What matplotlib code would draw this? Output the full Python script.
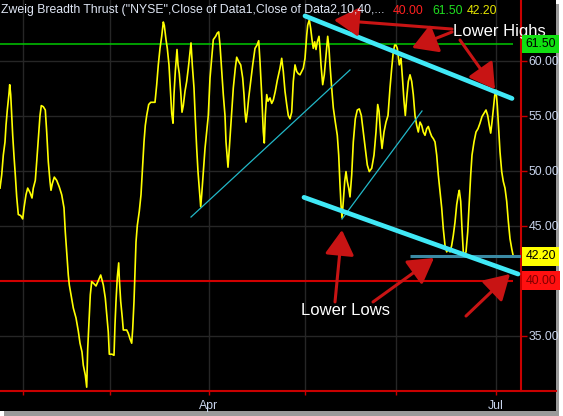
import numpy as np
import matplotlib
matplotlib.use("Agg")
import matplotlib.pyplot as plt
from matplotlib.patches import Rectangle, FancyArrowPatch
from matplotlib.lines import Line2D
import matplotlib.transforms as mtransforms

plt.rcParams['font.family'] = ['Liberation Sans', 'DejaVu Sans']

# ---------------- data (time index: 4.5 units = 1 trading session) ----------------
t = [0, 1.7, 3.3, 5, 6, 7.3, 9, 9.7, 10.7, 11.7, 12.7, 14, 15.3, 16.7, 18.3, 20.7, 22.7, 24, 26, 27.7,
     30, 32, 33.3, 35.3, 36.7, 38.3, 40, 41.3, 43.3, 45.3, 46.7, 48.3, 50, 51, 52.3, 54.3, 56.7, 59.3,
     61.7, 64, 65.3, 66.7, 68.3, 69.3, 71, 73.3, 76, 78.3, 80, 82, 83.3, 85.3, 86.7, 87.7, 89, 90.3,
     91.7, 94, 96, 98.3, 100.7, 103.3, 105.3, 106.7, 108.3, 109.3, 112, 114, 115, 116, 117.3, 118.7,
     119.3, 120.7, 122.3, 123.3, 126.7, 128.3, 130, 131.7, 132.7, 134, 135, 136, 137.3, 139.3, 141,
     142.3, 144, 145.3, 146.7, 148.7, 150.7, 155, 156.7, 158.3, 160, 161.7, 163.3, 164.3, 166, 167.3,
     169, 170.7, 171.7, 173, 174, 175.3, 177, 178, 179.3, 180.7, 182, 183.3, 185, 186.7, 188.3, 190,
     191, 192.3, 194, 195.3, 196.7, 198, 199.3, 200.7, 201.7, 203.3, 205, 206.7, 208.3, 210, 211.7,
     213.3, 215.7, 217.3, 218.7, 220, 222, 223.3, 225, 226, 227.3, 228, 229.3, 231, 233.3, 235.3,
     236.7, 238.7, 240.7, 242.7, 244, 245, 246, 247.3, 248.7, 250.7, 252.7, 255, 257, 258.7, 260,
     261.7, 263.3, 264.3, 265.3, 266.7, 268, 270, 271.7, 273.3, 275.3, 277.3, 280, 281.7, 283.3, 285,
     286.7, 288.3, 290, 291.7, 293.3, 295, 296.7, 298.3, 300, 301.7, 303.3, 305, 306.7, 307.7, 309.3,
     310.7, 312, 313.3, 314.7, 316, 317.3, 319, 320, 321, 322.7, 324.3, 326, 327.7, 329, 330, 331.7,
     333.3, 335.3, 337.3, 338.7, 340, 341, 342, 343.3, 344.7, 346, 347.3, 348.7, 350, 351.7, 353.3,
     355.3, 357.3, 359.3, 361.3, 363.3, 365.3, 367.3, 369.3, 371.7, 374, 376, 377.7, 379, 380.7, 382,
     384, 386, 388, 390, 391.7, 393.3, 394.7, 396, 397.3, 399.3, 401, 402.7, 404, 405.3, 406.7, 408.3,
     410, 411.7, 413.3, 415, 416.7, 418.3, 420, 421.7, 423.3, 425, 426.7, 428.3, 430, 431.7, 433.3,
     435, 436.7, 438.3, 440, 441.7, 443.3, 445, 446.7, 448.3, 450, 451.7, 453.3, 455, 456.7, 458.3,
     459.3, 460.7, 462, 463.3, 464.3, 466, 467.7, 469.3, 470.7, 472, 474, 476, 478, 480, 482, 484,
     486, 487.7, 489.3, 490.7, 492, 493.3, 494.7, 496, 497.3, 498.7, 500, 501.7, 503.3, 505, 506.7,
     508.3, 510, 511.7, 513.3]
zbt = [48.4, 49.6, 51.4, 52.6, 54.1, 55.5, 57.0, 57.8, 56.9, 55.0, 53.2, 51.3, 49.6, 47.6, 46.0, 45.9,
       45.6, 46.6, 47.8, 48.4, 48.0, 47.5, 48.4, 49.1, 50.8, 52.9, 55.0, 55.9, 55.8, 55.5, 53.5, 50.8,
       49.0, 48.2, 48.8, 49.4, 49.1, 48.5, 47.8, 46.6, 44.4, 42.6, 40.5, 39.6, 38.7, 37.5, 36.6, 35.4,
       34.3, 33.5, 32.3, 31.4, 30.3, 33.8, 36.3, 38.7, 39.9, 39.7, 39.5, 40.0, 40.5, 39.6, 38.4, 36.9,
       35.3, 33.3, 33.3, 33.2, 36.0, 38.1, 40.3, 41.6, 40.2, 38.1, 36.6, 35.5, 35.5, 35.2, 34.7, 34.3,
       35.6, 38.1, 40.8, 43.5, 45.0, 46.3, 47.8, 49.9, 52.6, 54.1, 55.0, 56.0, 56.2, 56.2, 57.8, 59.6,
       61.1, 62.2, 63.5, 63.2, 61.9, 61.1, 59.6, 56.9, 55.2, 54.3, 56.9, 59.0, 61.0, 59.6, 58.8, 57.2,
       55.3, 55.9, 57.2, 58.1, 59.3, 60.8, 61.6, 59.6, 57.5, 54.7, 52.0, 49.9, 48.4, 46.7, 47.8, 49.9,
       52.0, 53.5, 55.0, 58.4, 60.2, 61.9, 62.2, 62.5, 62.6, 61.4, 58.7, 56.9, 55.0, 52.6, 51.1, 50.3,
       52.0, 54.4, 57.5, 59.3, 60.3, 59.9, 59.6, 58.4, 56.9, 55.3, 54.4, 55.3, 56.6, 58.1, 59.6, 61.1,
       61.4, 61.8, 59.9, 56.9, 53.5, 52.5, 55.0, 56.9, 56.3, 56.6, 56.1, 56.4, 57.2, 58.2, 59.3, 60.2,
       59.0, 57.2, 56.0, 55.0, 54.7, 55.3, 58.1, 59.6, 59.0, 58.8, 58.7, 59.0, 59.3, 60.2, 62.3, 63.2,
       63.7, 62.9, 61.9, 61.1, 61.7, 61.0, 61.7, 62.2, 61.1, 59.6, 57.8, 58.7, 60.5, 62.2, 61.1, 59.6,
       57.5, 55.7, 54.4, 53.2, 51.4, 48.7, 46.9, 45.7, 47.2, 49.0, 49.9, 49.0, 48.4, 47.6, 49.6, 52.6,
       54.7, 55.5, 55.6, 55.0, 53.5, 52.0, 50.5, 49.9, 50.2, 51.4, 53.5, 56.0, 55.4, 53.2, 52.0, 53.5,
       54.4, 55.0, 57.5, 59.3, 60.8, 61.4, 61.4, 61.1, 59.6, 60.2, 58.1, 56.3, 55.0, 56.6, 58.1, 58.7,
       58.1, 56.9, 55.0, 54.1, 53.5, 54.4, 54.1, 53.5, 53.2, 53.8, 54.0, 53.5, 53.1, 52.9, 52.6, 51.4,
       49.6, 48.1, 46.6, 44.7, 43.2, 42.6, 42.9, 42.6, 43.2, 44.1, 45.3, 46.9, 47.8, 48.2, 47.2, 44.7,
       42.6, 42.3, 42.6, 44.4, 47.2, 49.6, 51.4, 52.6, 53.5, 53.8, 54.3, 54.9, 55.2, 55.5, 55.0, 54.1,
       53.4, 54.4, 55.6, 56.8, 57.3, 55.9, 53.8, 51.7, 49.9, 49.0, 48.4, 47.2, 45.4, 43.8, 42.9, 42.2]

month_pos = [23, 110, 209, 305, 396, 496]
month_labels = ['', '', 'Apr', '', '', 'Jul']
ytick_vals = [35, 45, 50, 55, 60]
ytick_labels = ['35.00', '45.00', '50.00', '55.00', '60.00']

lower_level = 40.0
upper_level = 61.5
last_value = 42.2

# trend lines drawn on the chart (t, value) pairs
upper_trend = ([305, 512], [64.05, 56.55])
lower_trend = ([304, 518], [47.56, 40.59])
thin_trend1 = ([191, 350], [45.77, 59.14])
thin_trend2 = ([342, 422], [45.59, 55.41])
support = ([410, 522], [42.2, 42.2])

# annotation arrows (tail -> tip)
high_arrows = [((452, 62.86), (334, 63.68)), ((452, 62.59), (412, 61.15)), ((460, 61.86), (495, 57.38))]
low_arrows = [((335, 38.05), (342, 44.59)), ((373, 38.05), (434, 42.05)), ((466, 36.77), (510, 40.59))]

# ---------------- figure ----------------
W, H = 563, 416
fig = plt.figure(figsize=(W / 100, H / 100), dpi=100, facecolor='white')
# shadowed black panel
fig.patches.append(Rectangle((4 / W, 0), 555 / W, 412 / H, transform=fig.transFigure,
                             facecolor='#9a9a9a', edgecolor='none', zorder=-3))
fig.patches.append(Rectangle((0, 5 / H), 556 / W, 411 / H, transform=fig.transFigure,
                             facecolor='black', edgecolor='none', zorder=-2))

ax = fig.add_axes([0, 1 - 391 / H, 521 / W, 391 / H])
ax.set_facecolor('black')
ax.set_xlim(0, 521)
ax.set_ylim(29.955, 65.5)

for s in ['left', 'top', 'bottom']:
    ax.spines[s].set_visible(False)
ax.spines['right'].set_color('#c80000')
ax.spines['right'].set_linewidth(1.5)

ax.yaxis.tick_right()
ax.set_yticks(ytick_vals)
ax.set_yticklabels(ytick_labels)
ax.set_xticks(month_pos)
ax.set_xticklabels(month_labels)
ax.tick_params(axis='y', colors='#c80000', labelcolor='#c8d4ec', length=4, width=1, pad=1.5,
               labelsize=8.8)
ax.tick_params(axis='x', colors='#c80000', labelcolor='#c8d4ec', length=3, width=1, pad=3.5,
               labelsize=8.8)
ax.grid(True, color='#262626', lw=1)
ax.set_axisbelow(True)

# bottom red line across whole panel
fig.lines.append(Line2D([0, 556 / W], [1 - 391 / H, 1 - 391 / H], transform=fig.transFigure,
                        color='#c80000', lw=1.5))

# level lines
ax.hlines(upper_level, 0, 513, color='#00c800', lw=1.1, zorder=2)
ax.hlines(lower_level, 0, 513, color='#d00000', lw=1.5, zorder=2)

# indicator
ax.plot(t, zbt, color='#ffff00', lw=1.2, zorder=3)

# trend lines
ax.plot(*thin_trend1, color='#22b8c8', lw=0.9, zorder=4)
ax.plot(*thin_trend2, color='#22b8c8', lw=0.9, zorder=4)
ax.plot(*support, color='#3a8aa4', lw=2.2, zorder=4, solid_capstyle='butt')
ax.plot(*upper_trend, color='#40e8f6', lw=3.4, zorder=5, solid_capstyle='round')
ax.plot(*lower_trend, color='#40e8f6', lw=3.4, zorder=5, solid_capstyle='round')

# arrows
for tail, tip in high_arrows + low_arrows:
    arr = FancyArrowPatch(tail, tip, arrowstyle='-|>,head_length=0.85,head_width=0.5',
                          mutation_scale=18, color='#c81414', lw=2.2, zorder=6,
                          shrinkA=0, shrinkB=0)
    ax.add_patch(arr)

ax.text(499, 62.6, 'Lower Highs', color='white', fontsize=12, ha='center', va='center', zorder=7)
ax.text(345.5, 37.3, 'Lower Lows', color='white', fontsize=12, ha='center', va='center', zorder=7)

# value boxes on the right axis
trans = mtransforms.blended_transform_factory(ax.transAxes, ax.transData)
for val, fc, tc in [(upper_level, '#10e010', 'black'), (last_value, '#ffff00', 'black'),
                    (lower_level, '#ff1010', '#800000')]:
    ax.text(1.0085, val, f'{val:.2f}', transform=trans, ha='left', va='center', fontsize=8.8,
            color=tc, clip_on=False, zorder=8,
            bbox=dict(boxstyle='square,pad=0.28', fc=fc, ec='none'))

# title line
ty = 1 - 10.5 / H
fig.text(1 / W, ty, 'Zweig Breadth Thrust ("NYSE",Close of Data1,Close of Data2,10,40,...',
         color='#dfe6f4', fontsize=8.85, ha='left', va='center')
fig.text(393 / W, ty, '40.00', color='#ff2020', fontsize=8.85, ha='left', va='center')
fig.text(432 / W, ty, '61.50', color='#20e020', fontsize=8.85, ha='left', va='center')
fig.text(467 / W, ty, '42.20', color='#e6e600', fontsize=8.85, ha='left', va='center')

fig.savefig('out.png', dpi=100, facecolor=fig.get_facecolor())
